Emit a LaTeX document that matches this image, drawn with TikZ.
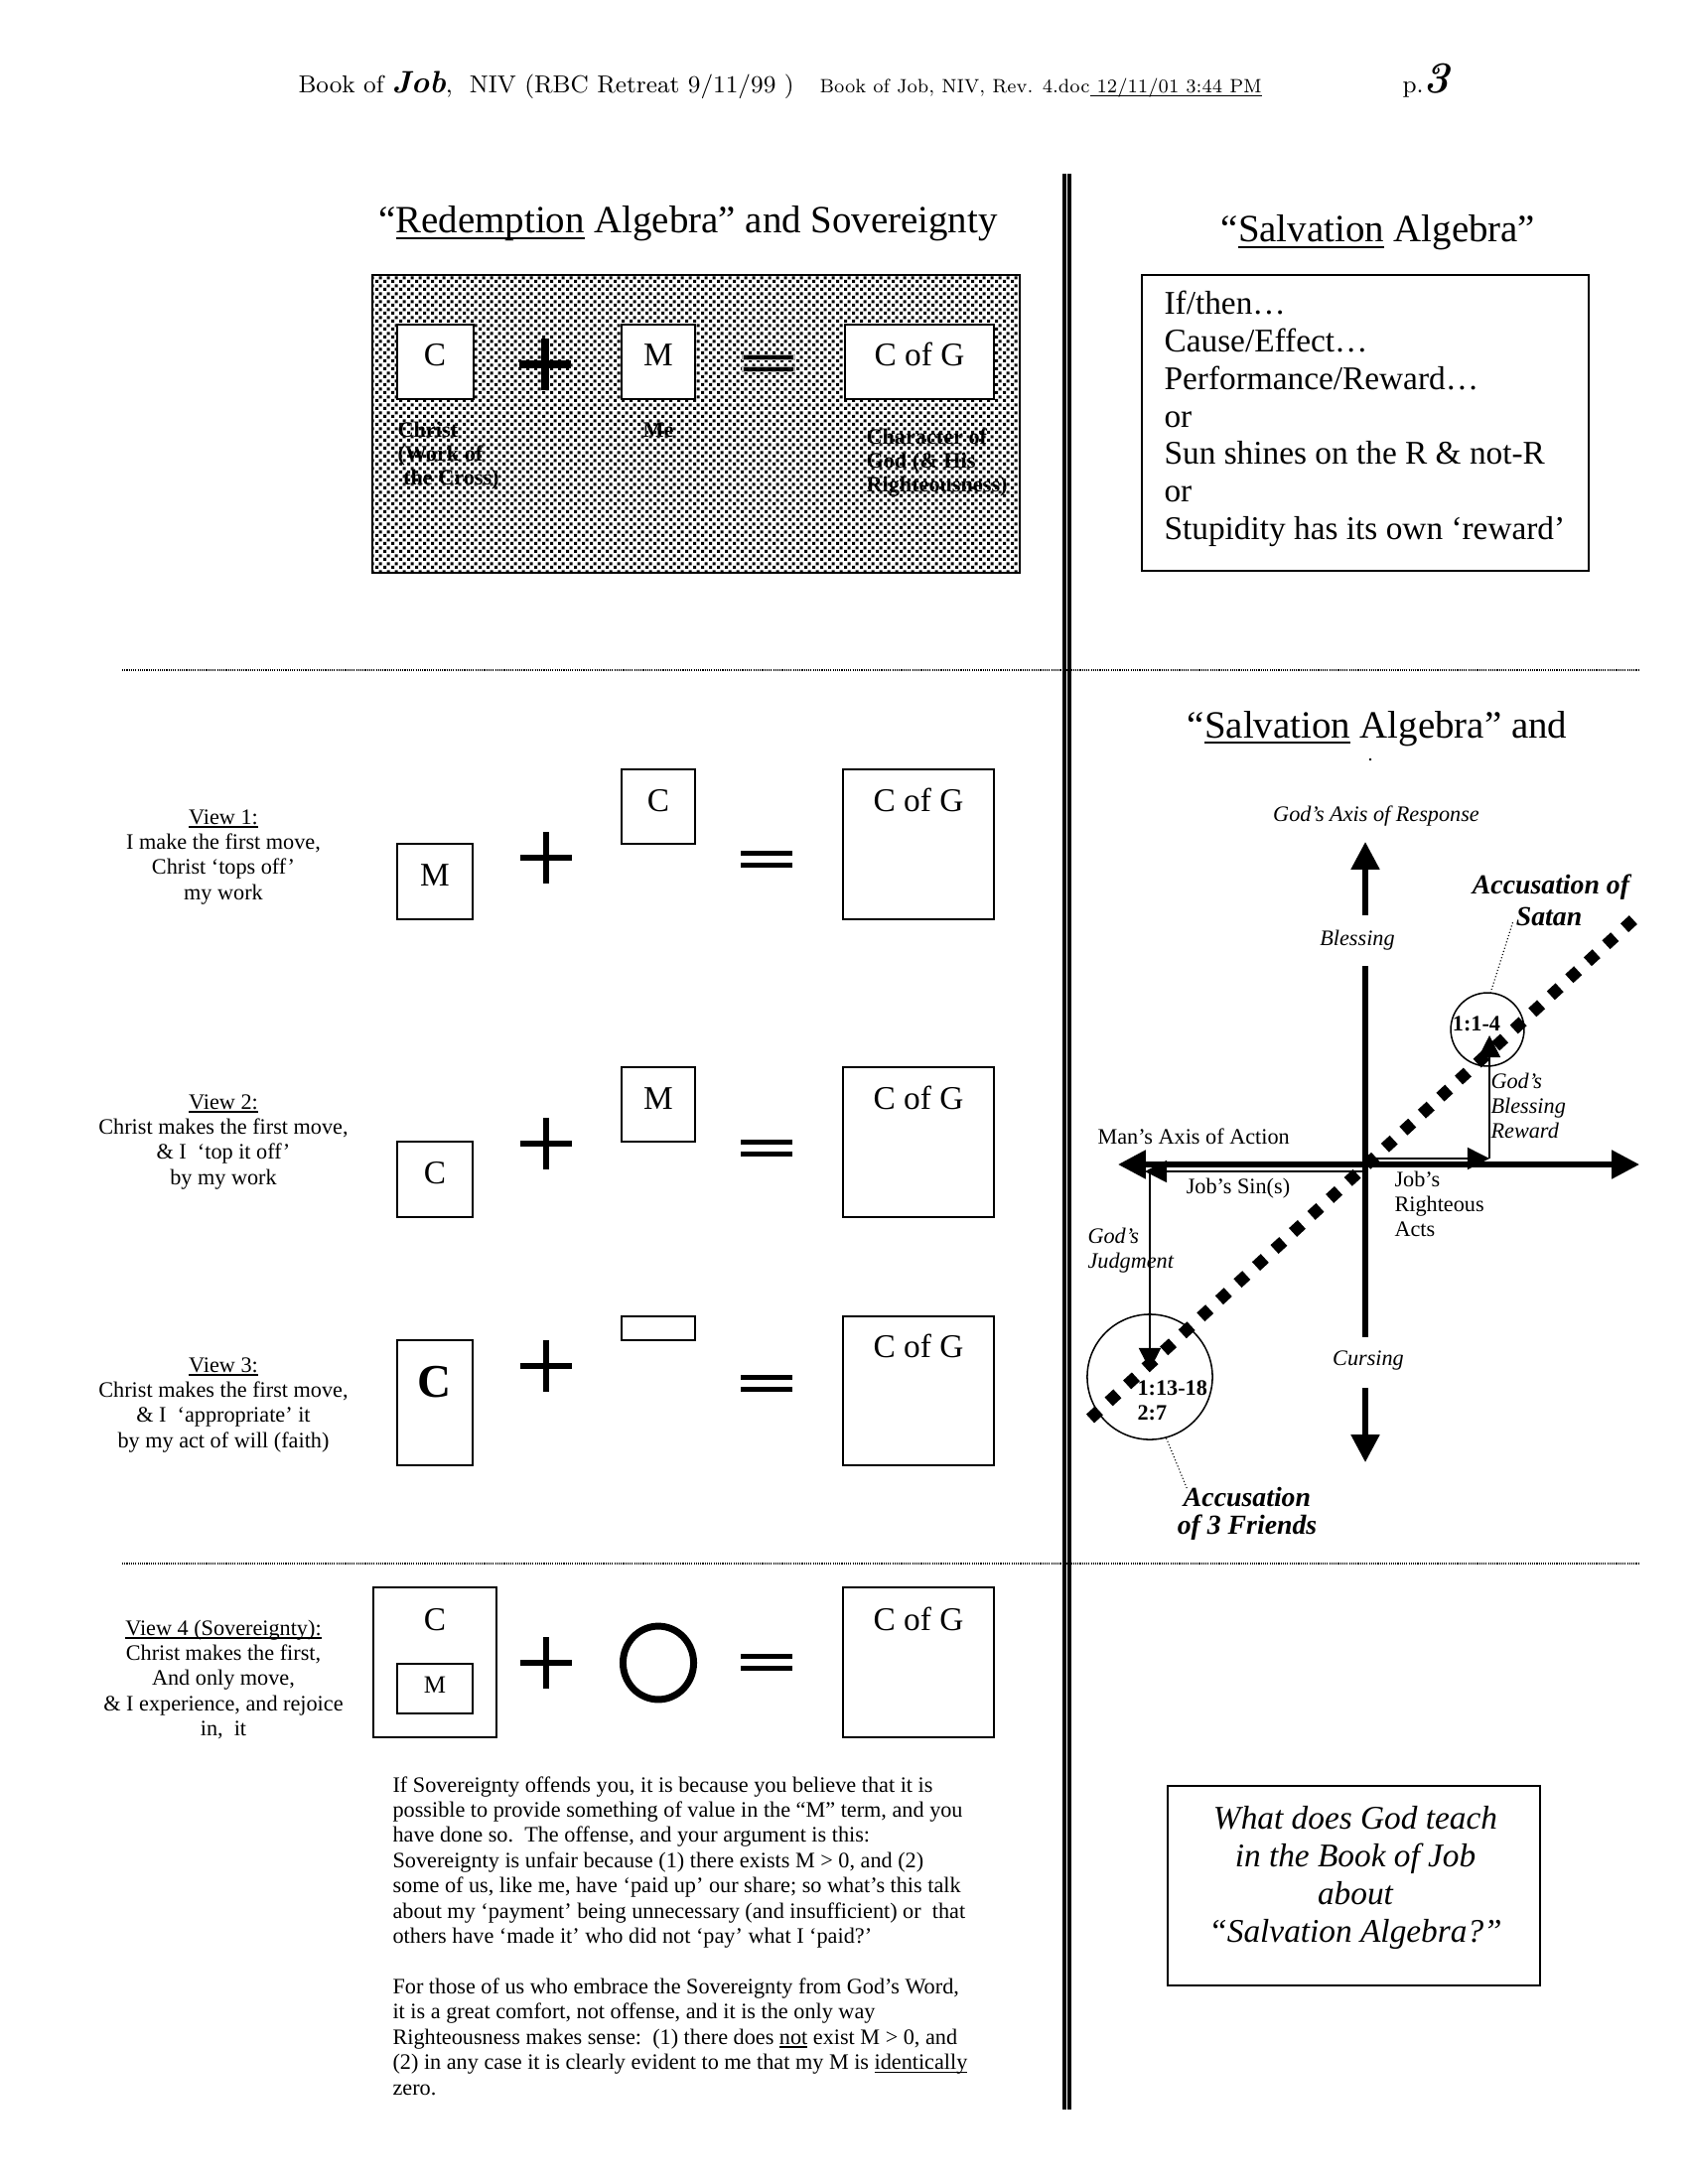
\documentclass[tikz,border=0pt]{standalone}
\usepackage{fontspec}
\newfontfamily\tnr{Liberation Serif}
\usetikzlibrary{arrows.meta,patterns}
\pgfdeclarepatternformonly{jobdots}{\pgfpointorigin}{\pgfpoint{2.9pt}{2.9pt}}{\pgfpoint{2.9pt}{2.9pt}}{%
  \pgfpathrectangle{\pgfpointorigin}{\pgfpoint{1.25pt}{1.25pt}}%
  \pgfpathrectangle{\pgfpoint{1.45pt}{1.45pt}}{\pgfpoint{1.25pt}{1.25pt}}%
  \pgfusepath{fill}}
\newcommand{\jul}[1]{\setbox0=\hbox{#1}\rlap{\rule[-0.16em]{\wd0}{0.065em}}\box0\relax}
\newcommand{\jbl}[1]{\begin{tabular}[t]{@{}l@{}}#1\end{tabular}}
\newcommand{\jbc}[1]{\begin{tabular}[t]{@{}c@{}}#1\end{tabular}}
\newcommand{\jplus}[3]{\draw[line width=#3] ({#1-26},#2) -- ({#1+26},#2) ({#1},{#2-26}) -- ({#1},{#2+26});}
\newcommand{\jeq}[2]{\fill ({#1-26},{#2-8.5}) rectangle ({#1+26},{#2-3.5}); \fill ({#1-26},{#2+3.5}) rectangle ({#1+26},{#2+8.5});}
\begin{document}
\begin{tikzpicture}[x=0.36pt,y=-0.36pt,
  hdr/.style={inner sep=0pt, font=\rmfamily\fontsize{8.85}{11}\selectfont},
  tnr8/.style={inner sep=0pt, font=\tnr\fontsize{8}{9.15}\selectfont},
  tnr8i/.style={inner sep=0pt, font=\tnr\itshape\fontsize{8}{9.1}\selectfont},
  tnr8b/.style={inner sep=0pt, font=\tnr\bfseries\fontsize{8}{8.8}\selectfont},
  tnr12/.style={inner sep=0pt, font=\tnr\fontsize{12}{13.6}\selectfont},
  ttl/.style={inner sep=0pt, font=\tnr\fontsize{14}{16}\selectfont},
  accst/.style={inner sep=0pt, font=\tnr\bfseries\itshape\fontsize{10}{10.4}\selectfont},
  jbox/.style={draw, line width=0.6pt, fill=white},
  axis/.style={line width=2pt},
  axtip/.style={-{Triangle[length=10pt,width=10pt]}},
  thinarr/.style={line width=0.55pt, -{Triangle[length=8pt,width=8pt]}},
  leader/.style={line width=0.4pt, dash pattern=on 0.4pt off 0.8pt},
  sepline/.style={line width=0.5pt, dash pattern=on 0.4pt off 0.4pt},
  diam/.style={line width=4.3pt, dash pattern=on 4.3pt off 4.77pt},
  ring/.style={circle, draw, line width=0.55pt, inner sep=0pt}
]
\useasboundingbox[fill=white] (0,0) rectangle (1700,2200);

% ---------- header
\node[hdr, anchor=base west] (hdrA) at (300,94) {Book of {\bfseries\itshape\fontsize{11.2}{12}\selectfont Job},\ \ NIV (RBC Retreat 9/11/99 )};
\node[hdr, anchor=base west, font=\rmfamily\fontsize{7}{9}\selectfont] (hdrB) at (825,94) {\scalebox{0.935}[1]{Book of Job, NIV, Rev. 4.doc\jul{\ 12/11/01 3:44 PM}}};
\node[hdr, anchor=base west] (hdrP) at (1412,94) {p.{\bfseries\itshape\fontsize{16}{16}\selectfont 3}};

% ---------- separators
\draw[sepline] (123,675) -- (1651,675);
\draw[sepline] (123,1575) -- (1651,1575);
\draw[line width=1.55pt] (1072.2,175) -- (1072.2,2125);
\draw[line width=1.55pt] (1077.2,175) -- (1077.2,2125);

% ---------- top left
\node[ttl, anchor=base] (titleL) at (693,235) {“\jul{Redemption} Algebra” and Sovereignty};
\fill[white] (375,277) rectangle (1027,577);
\fill[pattern=jobdots, pattern color=black] (375,277) rectangle (1027,577);
\draw[line width=0.75pt] (375,277) rectangle (1027,577);
\draw[jbox] (400,327) rectangle (477,402);
\draw[jbox] (626,327) rectangle (700,402);
\draw[jbox] (851,327) rectangle (1001,402);
\node[tnr12, anchor=base] (tC) at (438,368) {C};
\node[tnr12, anchor=base] (tM) at (663,368) {M};
\node[tnr12, anchor=base] (tG) at (926,368) {C of G};
\jplus{549}{367}{3pt}
\filldraw[draw=gray!60, line width=0.6pt] (748,357.5) rectangle (800,362.5);
\filldraw[draw=gray!60, line width=0.6pt] (748,369.5) rectangle (800,374.5);
\node[tnr8b, anchor=base west] (lbC) at (400,440) {\jbl{Christ\\(Work of\\\ the Cross)}};
\node[tnr8b, anchor=base west] (lbM) at (647,440) {Me};
\node[tnr8b, anchor=base west] (lbG) at (872,447) {\jbl{Character of\\God (\& His\\Righteousness)}};

% ---------- top right
\node[ttl, anchor=base] (titleR) at (1388,244) {“\jul{Salvation} Algebra”};
\draw[jbox, line width=0.75pt] (1150,277) rectangle (1600,575);
\node[tnr12, anchor=base west, font=\tnr\fontsize{12}{13.57}\selectfont] (ifthen) at (1172,317) {\jbl{If/then…\\Cause/Effect…\\Performance/Reward…\\or\\Sun shines on the R \& not-R\\or\\Stupidity has its own ‘reward’}};

% ---------- view 1
\node[tnr8, anchor=base] (v1) at (225,830) {\jbc{\jul{View 1:}\\I make the first move,\\Christ ‘tops off’\\my work}};
\draw[jbox] (400,850) rectangle (476,926);
\node[tnr12, anchor=base] (v1M) at (438,892) {M};
\jplus{550}{864}{2.5pt}
\draw[jbox] (626,775) rectangle (700,850);
\node[tnr12, anchor=base] (v1C) at (663,817) {C};
\jeq{772}{865}
\draw[jbox] (849,775) rectangle (1001,926);
\node[tnr12, anchor=base] (v1G) at (925,817) {C of G};

% ---------- view 2
\node[tnr8, anchor=base] (v2) at (225,1117) {\jbc{\jul{View 2:}\\Christ makes the first move,\\\& I\ \ ‘top it off’\\by my work}};
\draw[jbox] (400,1150) rectangle (476,1226);
\node[tnr12, anchor=base] (v2C) at (438,1192) {C};
\jplus{550}{1152}{2.5pt}
\draw[jbox] (626,1075) rectangle (700,1150);
\node[tnr12, anchor=base] (v2M) at (663,1117) {M};
\jeq{772}{1156}
\draw[jbox] (849,1075) rectangle (1001,1226);
\node[tnr12, anchor=base] (v2G) at (925,1117) {C of G};

% ---------- view 3
\node[tnr8, anchor=base] (v3) at (225,1382) {\jbc{\jul{View 3:}\\Christ makes the first move,\\\& I\ \ ‘appropriate’ it\\by my act of will (faith)}};
\draw[jbox] (400,1350) rectangle (476,1476);
\node[inner sep=0pt, anchor=base, font=\tnr\bfseries\fontsize{17}{17}\selectfont] (v3C) at (438,1407) {C};
\jplus{550}{1376}{2.5pt}
\draw[jbox] (626,1326) rectangle (700,1350);
\jeq{772}{1393.5}
\draw[jbox] (849,1326) rectangle (1001,1476);
\node[tnr12, anchor=base] (v3G) at (925,1367) {C of G};

% ---------- view 4
\node[tnr8, anchor=base] (v4) at (225,1647) {\jbc{\jul{View 4 (Sovereignty):}\\Christ makes the first,\\And only move,\\\& I experience, and rejoice\\in,\ \ it}};
\draw[jbox] (376,1599) rectangle (500,1750);
\node[tnr12, anchor=base] (v4C) at (438,1642) {C};
\draw[jbox] (400,1676) rectangle (476,1726);
\node[inner sep=0pt, anchor=base, font=\tnr\fontsize{9}{9}\selectfont] (v4M) at (438,1705) {M};
\jplus{550}{1675}{2.5pt}
\draw[line width=2.5pt] (663,1675) ellipse [x radius=12.8pt, y radius=13.3pt];
\jeq{772}{1674}
\draw[jbox] (849,1599) rectangle (1001,1750);
\node[tnr12, anchor=base] (v4G) at (925,1642) {C of G};

% ---------- paragraph
\node[tnr8, anchor=base west] (para) at (395,1805) {\jbl{If Sovereignty offends you, it is because you believe that it is\\
possible to provide something of value in the “M” term, and you\\
have done so.\ \ The offense, and your argument is this:\\
Sovereignty is unfair because (1) there exists M > 0, and (2)\\
some of us, like me, have ‘paid up’ our share; so what’s this talk\\
about my ‘payment’ being unnecessary (and insufficient) or\ \ that\\
others have ‘made it’ who did not ‘pay’ what I ‘paid?’\\
\\
For those of us who embrace the Sovereignty from God’s Word,\\
it is a great comfort, not offense, and it is the only way\\
Righteousness makes sense:\ \ (1) there does \jul{not} exist M > 0, and\\
(2) in any case it is clearly evident to me that my M is \jul{identically}\\
zero.}};

% ---------- right middle diagram
\node[ttl, anchor=base] (titleR2) at (1387,743) {“\jul{Salvation} Algebra” and};
\fill (1380,765) circle[radius=0.5pt];
\node[tnr8i, anchor=base] (gAxis) at (1386,827) {God’s Axis of Response};
\node[tnr8i, anchor=base] (bless) at (1367,952) {Blessing};
\node[tnr8i, anchor=base] (curse) at (1378,1375) {Cursing};

\coordinate (vTop) at (1375,848);
\coordinate (vA) at (1375,922);
\coordinate (vB) at (1375,973);
\coordinate (vC) at (1375,1347);
\coordinate (vD) at (1375,1398);
\coordinate (vBot) at (1375,1473);
\coordinate (hL) at (1126,1173);
\coordinate (hR) at (1651,1173);
\draw[axis, axtip] (vA) -- (vTop);
\draw[axis] (vB) -- (vC);
\draw[axis, axtip] (vD) -- (vBot);
\draw[axis, {Triangle[length=10pt,width=10pt]}-{Triangle[length=10pt,width=10pt]}] (hL) -- (hR);

\coordinate (sinS) at (1375,1180);
\coordinate (sinE) at (1153,1180);
\coordinate (judS) at (1158,1180);
\coordinate (judE) at (1158,1380);
\coordinate (rigS) at (1375,1167);
\coordinate (rigE) at (1500,1167);
\coordinate (rewE) at (1500,1043);
\draw[thinarr] (sinS) -- (sinE);
\draw[thinarr] (judS) -- (judE);
\draw[thinarr] (rigS) -- (rigE);
\draw[thinarr] (rigE) -- (rewE);

\node[ring, minimum size=26.6pt] (c1) at (1498,1037) {};
\node[ring, minimum size=45.4pt] (c2) at (1158,1387) {};

\coordinate (dA) at (1098,1429);
\coordinate (dB) at (1652,920);
\draw[diam] (dA) -- (dB);

\node[inner sep=0pt, anchor=base, font=\tnr\bfseries\fontsize{8}{9}\selectfont] (r1) at (1487,1038) {1:1-4};
\node[inner sep=0pt, anchor=base west, font=\tnr\bfseries\fontsize{8}{9}\selectfont] (r2) at (1145,1405) {\jbl{1:13-18\\2:7}};

\node[tnr8, anchor=base west] (manAx) at (1105,1152) {Man’s Axis of Action};
\node[tnr8, anchor=base] (jsin) at (1247,1202) {Job’s Sin(s)};
\node[tnr8, anchor=base west, font=\tnr\fontsize{8}{9}\selectfont] (jright) at (1404,1195) {\jbl{Job’s\\Righteous\\Acts}};
\node[tnr8i, anchor=base west, font=\tnr\itshape\fontsize{8}{9}\selectfont] (greward) at (1501,1096) {\jbl{God’s\\Blessing\\Reward}};
\node[tnr8i, anchor=base west, font=\tnr\itshape\fontsize{8}{9.3}\selectfont] (gjudg) at (1095,1252) {\jbl{God’s\\Judgment}};

\node[accst, anchor=base] (acS1) at (1562,900) {Accusation of};
\node[accst, anchor=base] (acS2) at (1560,932) {Satan};
\node[accst, anchor=base] (acF) at (1256,1517) {\jbc{Accusation\\of 3 Friends}};
\draw[leader] ([xshift=-1pt,yshift=1pt]acS2.base west) -- (c1.85);
\draw[leader] (c2.-75) -- ([xshift=3.6pt,yshift=-1pt]acF.north west);

% ---------- bottom right
\draw[jbox, line width=0.75pt] (1176,1799) rectangle (1551,2000);
\node[inner sep=0pt, anchor=base, font=\tnr\itshape\fontsize{12}{13.7}\selectfont] (q) at (1365,1842) {\jbc{What does God teach\\in the Book of Job\\about\\“Salvation Algebra?”}};
\end{tikzpicture}
\end{document}
